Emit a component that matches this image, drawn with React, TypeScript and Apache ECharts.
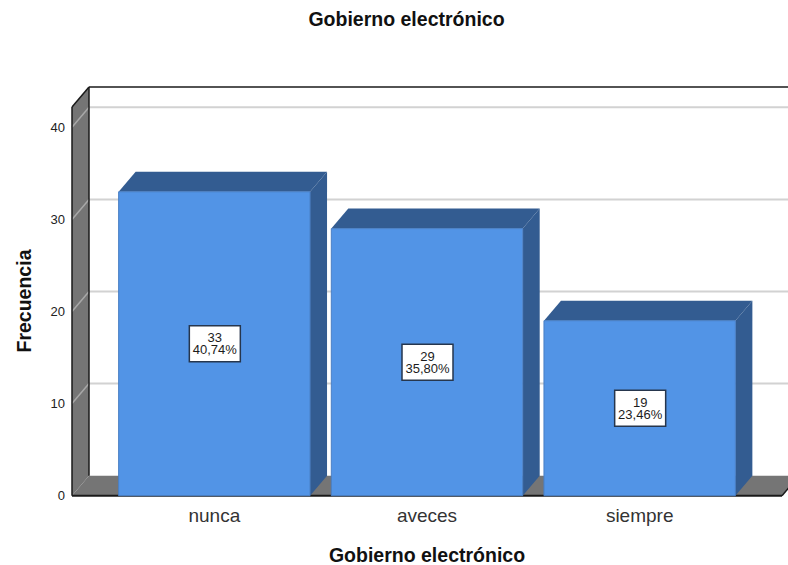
import React, { useEffect, useRef } from "react";
import * as echarts from "echarts";

const categories = ["nunca", "aveces", "siempre"];
const counts = [33, 29, 19];
const percents = ["40,74%", "35,80%", "23,46%"];
const gridValues = [10, 20, 30, 40];
const wallTopValue = 42.2;

const FONT = "'Liberation Sans', Arial, sans-serif";
const DX = 17;
const DY = 20;
const WALL_LEFT = 36;
const WALL_RIGHT = 36;
const BAR_RATIO = 0.9;
const BLUE = "#5294e6";
const BLUE_DARK = "#335c91";
const WALL = "#757575";
const GRID = "#d2d2d2";
const BLACK = "#1a1a1a";

export default function App() {
  const ref = useRef<HTMLDivElement>(null);
  useEffect(() => {
    const chart = echarts.init(ref.current!, undefined, { renderer: "svg" });

    const renderWalls = (_p: any, api: any) => {
      const [x0, y0] = api.coord([0, 0]);
      const band = api.size([1, 0])[0];
      const L = x0 - band / 2 - WALL_LEFT;
      const R = x0 - band / 2 + band * categories.length + WALL_RIGHT;
      const T = api.coord([0, wallTopValue])[1];
      const children: any[] = [
        { type: "polygon", shape: { points: [[L, y0], [L + DX, y0 - DY], [R + DX, y0 - DY], [R, y0]] }, style: { fill: WALL } },
        { type: "polygon", shape: { points: [[L, T], [L + DX, T - DY], [L + DX, y0 - DY], [L, y0]] }, style: { fill: WALL } },
      ];
      gridValues.forEach((v) => {
        const y = api.coord([0, v])[1];
        children.push({
          type: "line",
          shape: { x1: L, y1: y, x2: L + DX, y2: y - DY },
          style: { stroke: "#a8a8a8", lineWidth: 1.5 },
        });
        children.push({
          type: "line",
          shape: { x1: L + DX, y1: y - DY, x2: R + DX, y2: y - DY },
          style: { stroke: GRID, lineWidth: 2 },
        });
      });
      const edge = (x1: number, y1: number, x2: number, y2: number, w = 1.5) => ({
        type: "line",
        shape: { x1, y1, x2, y2 },
        style: { stroke: BLACK, lineWidth: w },
      });
      children.push(edge(L, T, L + DX, T - DY));
      children.push(edge(L + DX, T - DY, R + DX, T - DY));
      children.push(edge(L + DX, T - DY, L + DX, y0 - DY));
      children.push(edge(L, T, L, y0));
      children.push(edge(L, y0, R, y0, 2));
      children.push(edge(R, y0, R + DX, y0 - DY));
      return { type: "group", children };
    };

    const renderBar = (p: any, api: any) => {
      const idx = api.value(0);
      const val = api.value(1);
      const [cx, y0] = api.coord([idx, 0]);
      const yT = api.coord([idx, val])[1];
      const w = api.size([1, 0])[0] * BAR_RATIO;
      const l = cx - w / 2;
      const r = cx + w / 2;
      const midY = (y0 + yT) / 2;
      const boxW = 51;
      const boxH = 36;
      return {
        type: "group",
        children: [
          { type: "polygon", shape: { points: [[l, yT], [l + DX, yT - DY], [r + DX, yT - DY], [r, yT]] }, style: { fill: BLUE_DARK } },
          { type: "polygon", shape: { points: [[r, yT], [r + DX, yT - DY], [r + DX, y0 - DY], [r, y0]] }, style: { fill: BLUE_DARK } },
          { type: "rect", shape: { x: l, y: yT, width: w, height: y0 - yT }, style: { fill: BLUE, stroke: "#4a7fc4", lineWidth: 1 } },
          { type: "rect", shape: { x: cx - boxW / 2 + 0.5, y: midY - boxH / 2, width: boxW, height: boxH }, style: { fill: "#ffffff", stroke: "#26364d", lineWidth: 1.5 } },
          {
            type: "text",
            style: {
              x: cx + 0.5,
              y: midY,
              text: `${counts[p.dataIndex]}\n${percents[p.dataIndex]}`,
              fill: "#1c1c1c",
              fontSize: 13,
              fontFamily: FONT,
              lineHeight: 12,
              align: "center",
              verticalAlign: "middle",
            },
          },
        ],
      };
    };

    chart.setOption({
      animation: false,
      backgroundColor: "#ffffff",
      title: {
        text: "Gobierno electrónico",
        left: 401.5,
        top: 4,
        textAlign: "center",
        textStyle: { fontFamily: FONT, fontSize: 19.5, fontWeight: "bold", color: "#111" },
      },
      grid: { left: 108, right: 42, top: 127.3, height: 368.4, outerBoundsMode: "none" },
      xAxis: {
        type: "category",
        data: categories,
        axisLine: { show: false },
        axisTick: { show: false },
        axisLabel: { fontFamily: FONT, fontSize: 19, color: "#333", margin: 10 },
        name: "Gobierno electrónico",
        nameLocation: "middle",
        nameGap: 49,
        nameTextStyle: { fontFamily: FONT, fontSize: 19.5, fontWeight: "bold", color: "#111" },
      },
      yAxis: {
        type: "value",
        min: 0,
        max: 40,
        interval: 10,
        splitLine: { show: false },
        axisLine: { show: false },
        axisTick: { show: false },
        axisLabel: { fontFamily: FONT, fontSize: 13, color: "#222", margin: 43 },
        name: "Frecuencia",
        nameLocation: "middle",
        nameGap: 74,
        nameTextStyle: { fontFamily: FONT, fontSize: 19.5, fontWeight: "bold", color: "#111", padding: [0, 0, 0, 21] },
      },
      series: [
        { type: "custom", data: [[0, 0]], renderItem: renderWalls, silent: true, z: 1, clip: false },
        {
          type: "custom",
          data: counts.map((c, i) => [i, c]),
          encode: { x: 0, y: 1 },
          renderItem: renderBar,
          z: 2,
          clip: false,
        },
      ],
    });
    return () => chart.dispose();
  }, []);
  return <div ref={ref} style={{ position: "absolute", left: 0, top: 0, width: 788, height: 565 }} />;
}
